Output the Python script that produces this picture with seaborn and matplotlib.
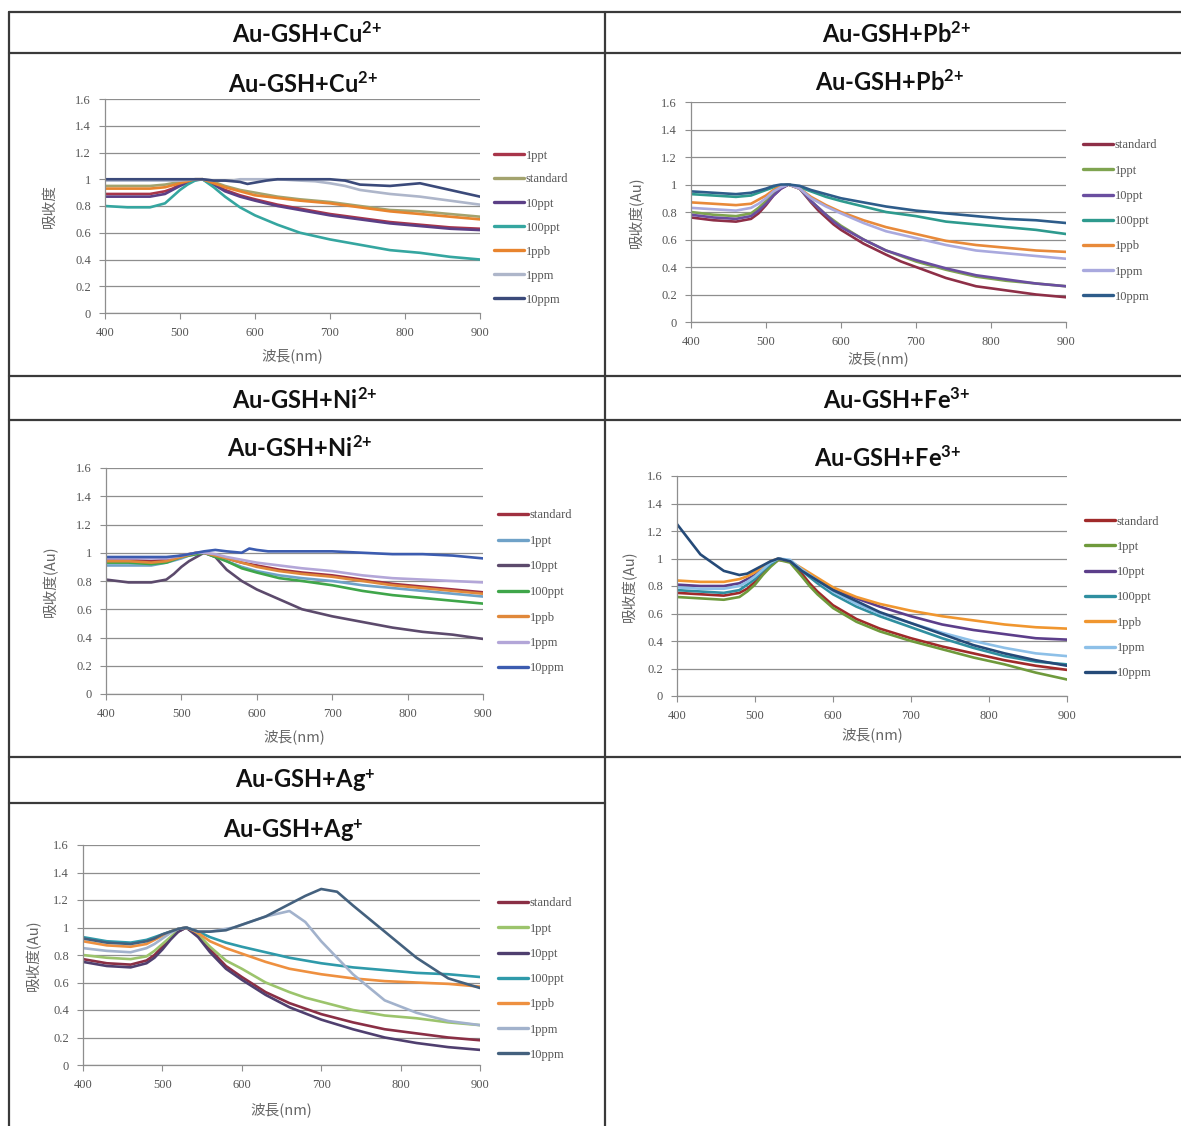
import numpy as np
import pandas as pd
import matplotlib
matplotlib.use("Agg")
import matplotlib.pyplot as plt
from matplotlib.lines import Line2D
import seaborn as sns

sns.set_style("white")
plt.rcParams["font.family"] = ["DejaVu Sans"]
plt.rcParams["mathtext.fontset"] = "custom"
plt.rcParams["mathtext.rm"] = "Lato"
plt.rcParams["mathtext.bf"] = "Lato:bold"
plt.rcParams["mathtext.it"] = "Lato:italic"

# ---------------------------------------------------------------- data
wavelength = [400, 430, 460, 480, 490, 500, 510, 520, 530, 545, 560, 570, 580,
              590, 600, 615, 630, 660, 680, 700, 720, 740, 780, 820, 860, 900]

# Au-GSH + Cu2+
cu_samples = ["1ppt", "standard", "10ppt", "100ppt", "1ppb", "1ppm", "10ppm"]
cu_1ppt = [.89, .89, .89, .91, .93, .96, .98, .995, 1.0, .965, .92, .90, .88, .865, .85, .83, .81, .78, .76, .74, .725, .71, .68, .66, .64, .63]
cu_standard = [.95, .95, .95, .96, .97, .98, .99, 1.0, 1.0, .98, .95, .935, .92, .91, .90, .885, .87, .85, .84, .83, .815, .80, .77, .76, .74, .72]
cu_10ppt = [.87, .87, .87, .89, .92, .95, .975, .995, 1.0, .96, .91, .89, .87, .855, .84, .82, .80, .77, .75, .73, .715, .70, .67, .65, .63, .62]
cu_100ppt = [.80, .79, .79, .82, .87, .92, .96, .99, 1.0, .94, .87, .83, .79, .76, .73, .695, .66, .60, .575, .55, .53, .51, .47, .45, .42, .40]
cu_1ppb = [.93, .93, .93, .94, .955, .97, .985, 1.0, 1.0, .97, .94, .925, .91, .895, .88, .87, .86, .84, .83, .82, .805, .79, .76, .74, .72, .70]
cu_1ppm = [.99, .99, .99, .99, .99, .99, .995, 1.0, 1.0, .99, .99, .99, 1.0, 1.0, 1.0, 1.0, 1.0, .99, .985, .97, .95, .92, .89, .87, .84, .81]
cu_10ppm = [1.0, 1.0, 1.0, 1.0, 1.0, 1.0, 1.0, 1.0, 1.0, .99, .99, .985, .98, .965, .975, .99, 1.0, 1.0, 1.0, 1.0, .99, .96, .95, .97, .92, .87]
cu_colors = ["#A8354A", "#A3A36E", "#5B3F86", "#35A6A0", "#E8842E", "#AEB6CA", "#3B4A7A"]

# Au-GSH + Pb2+
pb_samples = ["standard", "1ppt", "10ppt", "100ppt", "1ppb", "1ppm", "10ppm"]
pb_standard = [.76, .74, .73, .75, .79, .85, .92, .97, 1.0, .97, .87, .81, .76, .71, .67, .62, .57, .49, .44, .40, .36, .32, .26, .23, .20, .18]
pb_1ppt = [.80, .78, .77, .79, .83, .88, .94, .98, 1.0, .97, .88, .83, .78, .74, .70, .65, .60, .52, .48, .44, .41, .38, .33, .30, .28, .26]
pb_10ppt = [.78, .76, .75, .77, .81, .86, .92, .97, 1.0, .97, .88, .83, .78, .73, .69, .645, .60, .52, .485, .45, .42, .39, .34, .31, .28, .26]
pb_100ppt = [.93, .92, .91, .92, .94, .96, .98, .99, 1.0, .98, .95, .93, .91, .895, .88, .86, .84, .80, .785, .77, .75, .73, .71, .69, .67, .64]
pb_1ppb = [.87, .86, .85, .86, .89, .92, .96, .99, 1.0, .97, .91, .88, .85, .825, .80, .77, .74, .69, .665, .64, .615, .59, .56, .54, .52, .51]
pb_1ppm = [.83, .82, .81, .83, .86, .90, .95, .98, 1.0, .97, .90, .87, .84, .815, .79, .755, .72, .66, .635, .61, .585, .56, .52, .50, .48, .46]
pb_10ppm = [.95, .94, .93, .94, .955, .97, .99, 1.0, 1.0, .99, .96, .945, .93, .915, .90, .885, .87, .84, .825, .81, .80, .79, .77, .75, .74, .72]
pb_colors = ["#8E2F47", "#7FA450", "#6A4EA0", "#2E9A8E", "#E88A3A", "#A9A9DE", "#2E5C8A"]

# Au-GSH + Ni2+
ni_samples = ["standard", "1ppt", "10ppt", "100ppt", "1ppb", "1ppm", "10ppm"]
ni_standard = [.95, .95, .94, .95, .965, .98, .99, 1.0, 1.0, .98, .96, .945, .93, .92, .91, .895, .88, .86, .85, .84, .825, .81, .78, .76, .74, .72]
ni_1ppt = [.91, .91, .91, .93, .945, .96, .98, .99, 1.0, .98, .94, .92, .90, .885, .87, .855, .84, .82, .81, .80, .785, .77, .75, .73, .71, .69]
ni_10ppt = [.81, .79, .79, .81, .85, .90, .94, .97, 1.0, .97, .88, .84, .80, .77, .74, .705, .67, .60, .575, .55, .53, .51, .47, .44, .42, .39]
ni_100ppt = [.93, .93, .92, .93, .95, .97, .98, .99, 1.0, .97, .94, .915, .89, .875, .86, .84, .82, .80, .785, .77, .75, .73, .70, .68, .66, .64]
ni_1ppb = [.94, .94, .93, .94, .955, .97, .985, 1.0, 1.0, .98, .96, .945, .93, .915, .90, .885, .87, .85, .84, .83, .815, .80, .77, .75, .73, .71]
ni_1ppm = [.96, .96, .96, .96, .97, .98, .99, 1.0, 1.0, .99, .97, .96, .95, .94, .93, .92, .91, .89, .88, .87, .855, .84, .82, .81, .80, .79]
ni_10ppm = [.97, .97, .97, .97, .975, .98, .99, 1.0, 1.01, 1.02, 1.01, 1.005, 1.0, 1.03, 1.02, 1.01, 1.01, 1.01, 1.01, 1.01, 1.005, 1.0, .99, .99, .98, .96]
ni_colors = ["#A03040", "#6FA2C8", "#5C4A6C", "#3FA64A", "#E0883A", "#B3A6D8", "#3C5CB0"]

# Au-GSH + Fe3+
fe_samples = ["standard", "1ppt", "10ppt", "100ppt", "1ppb", "1ppm", "10ppm"]
fe_standard = [.75, .74, .73, .75, .78, .83, .89, .95, .99, .98, .89, .82, .76, .71, .66, .61, .56, .49, .455, .42, .39, .36, .31, .26, .22, .19]
fe_1ppt = [.72, .71, .70, .72, .76, .81, .88, .94, .99, .97, .87, .80, .74, .69, .64, .59, .54, .47, .435, .40, .37, .34, .28, .23, .17, .12]
fe_10ppt = [.81, .80, .80, .82, .85, .88, .93, .97, 1.0, .98, .92, .885, .85, .815, .78, .745, .71, .65, .615, .58, .55, .52, .48, .45, .42, .41]
fe_100ppt = [.77, .76, .75, .77, .81, .85, .91, .96, 1.0, .98, .91, .865, .82, .78, .74, .695, .65, .58, .54, .50, .46, .42, .35, .29, .25, .23]
fe_1ppb = [.84, .83, .83, .85, .87, .90, .94, .98, 1.0, .98, .93, .895, .86, .825, .79, .755, .72, .67, .645, .62, .60, .58, .55, .52, .50, .49]
fe_1ppm = [.79, .78, .78, .80, .83, .87, .92, .97, 1.0, .99, .92, .88, .84, .80, .76, .715, .67, .60, .565, .53, .495, .46, .40, .35, .31, .29]
fe_10ppm = [1.25, 1.03, .91, .88, .89, .92, .95, .98, 1.0, .98, .91, .875, .84, .805, .77, .73, .69, .61, .57, .53, .49, .45, .37, .31, .26, .22]
fe_colors = ["#A02A2A", "#6F9A3C", "#5C3E8A", "#2F8FA0", "#F0962F", "#8DC0E8", "#254A78"]

# Au-GSH + Ag+
ag_samples = ["standard", "1ppt", "10ppt", "100ppt", "1ppb", "1ppm", "10ppm"]
ag_standard = [.77, .74, .73, .76, .80, .86, .92, .97, 1.0, .94, .84, .78, .72, .68, .64, .585, .53, .45, .41, .37, .34, .31, .26, .23, .20, .18]
ag_1ppt = [.80, .78, .77, .79, .83, .88, .93, .98, 1.0, .95, .86, .81, .76, .73, .70, .65, .60, .53, .49, .46, .43, .40, .36, .34, .31, .29]
ag_10ppt = [.75, .72, .71, .74, .78, .84, .91, .97, 1.0, .93, .82, .76, .70, .66, .62, .565, .51, .42, .375, .33, .295, .26, .20, .16, .13, .11]
ag_100ppt = [.93, .90, .89, .91, .93, .95, .97, .99, 1.0, .97, .93, .91, .89, .875, .86, .84, .82, .78, .76, .74, .725, .71, .69, .67, .66, .64]
ag_1ppb = [.90, .87, .86, .88, .91, .94, .97, .99, 1.0, .96, .90, .875, .85, .83, .81, .78, .75, .70, .68, .66, .645, .63, .61, .60, .59, .57]
ag_1ppm = [.85, .83, .82, .85, .88, .92, .96, .99, 1.0, .97, .97, .98, .99, 1.0, 1.02, 1.05, 1.08, 1.12, 1.04, .90, .78, .66, .47, .38, .32, .29]
ag_10ppm = [.92, .89, .88, .90, .92, .95, .97, .99, 1.0, .97, .97, .975, .98, 1.0, 1.02, 1.05, 1.08, 1.17, 1.23, 1.28, 1.26, 1.16, .97, .78, .63, .56]
ag_colors = ["#8A2F45", "#9CC46C", "#4F3F6F", "#2F9AAA", "#EE9040", "#A2B2CC", "#44617E"]

y_ticks = [0, 0.2, 0.4, 0.6, 0.8, 1.0, 1.2, 1.4, 1.6]
y_tick_labels = ["0", "0.2", "0.4", "0.6", "0.8", "1", "1.2", "1.4", "1.6"]
x_ticks = [400, 500, 600, 700, 800, 900]

# ---------------------------------------------------------------- layout (pixels)
W, H = 1181, 1126
fig = plt.figure(figsize=(W / 100, H / 100), dpi=100)
fig.patch.set_facecolor("white")


def fx(x):
    return x / W


def fy(y):
    return 1 - y / H


panels = [
    dict(title=r"Au-GSH+Cu$^{\mathbf{2{+}}}$", samples=cu_samples,
         values=[cu_1ppt, cu_standard, cu_10ppt, cu_100ppt, cu_1ppb, cu_1ppm, cu_10ppm],
         colors=cu_colors, ylabel="吸收度",
         box=(105, 99, 480, 313), head=(307, 34), tt=(303, 83),
         leg=(494, 157, 26.0), ylx=50, xly=356),
    dict(title=r"Au-GSH+Pb$^{\mathbf{2{+}}}$", samples=pb_samples,
         values=[pb_standard, pb_1ppt, pb_10ppt, pb_100ppt, pb_1ppb, pb_1ppm, pb_10ppm],
         colors=pb_colors, ylabel="吸收度(Au)",
         box=(691, 102, 1066, 322), head=(897, 34), tt=(890, 82),
         leg=(1083, 147, 27.2), ylx=636, xly=359),
    dict(title=r"Au-GSH+Ni$^{\mathbf{2{+}}}$", samples=ni_samples,
         values=[ni_standard, ni_1ppt, ni_10ppt, ni_100ppt, ni_1ppb, ni_1ppm, ni_10ppm],
         colors=ni_colors, ylabel="吸收度(Au)",
         box=(106, 468, 483, 694), head=(305, 399), tt=(300, 447),
         leg=(498, 517, 27.5), ylx=50, xly=737),
    dict(title=r"Au-GSH+Fe$^{\mathbf{3{+}}}$", samples=fe_samples,
         values=[fe_standard, fe_1ppt, fe_10ppt, fe_100ppt, fe_1ppb, fe_1ppm, fe_10ppm],
         colors=fe_colors, ylabel="吸收度(Au)",
         box=(677, 476, 1067, 696), head=(897, 399), tt=(888, 457),
         leg=(1085, 523, 27.3), ylx=629, xly=735),
    dict(title=r"Au-GSH+Ag$^{\mathbf{{+}}}$", samples=ag_samples,
         values=[ag_standard, ag_1ppt, ag_10ppt, ag_100ppt, ag_1ppb, ag_1ppm, ag_10ppm],
         colors=ag_colors, ylabel="吸收度(Au)",
         box=(83, 845, 480, 1065), head=(305, 781), tt=(293, 831),
         leg=(498, 905, 27.2), ylx=33, xly=1110),
]

title_font = dict(family="Lato", fontweight="bold", fontsize=17, color="#111111")
tick_font = "Liberation Serif"
tick_size = 9
cjk = ["Noto Sans CJK TC", "DejaVu Sans"]
grid_col = "#8e8e8e"
text_col = "#555555"

for p in panels:
    l, t, r, b = p["box"]
    ax = fig.add_axes([fx(l), fy(b), (r - l) / W, (b - t) / H])
    n = len(p["samples"])
    df = pd.DataFrame({
        "wavelength": np.tile(wavelength, n),
        "absorbance": np.concatenate([np.asarray(v, float) for v in p["values"]]),
        "sample": np.repeat(p["samples"], len(wavelength)),
    })
    palette = dict(zip(p["samples"], p["colors"]))
    line_ax = sns.lineplot(data=df, x="wavelength", y="absorbance", hue="sample",
                           hue_order=p["samples"], palette=palette, ax=ax, legend=False,
                           linewidth=1.9, estimator=None, sort=False)
    for ln in line_ax.get_lines():
        ln.set_solid_joinstyle("round")
        ln.set_solid_capstyle("round")

    ax.set_xlim(400, 900)
    ax.set_ylim(0, 1.6)
    ax.set_xticks(x_ticks)
    ax.set_xticklabels([str(v) for v in x_ticks])
    ax.set_yticks(y_ticks)
    ax.set_yticklabels(y_tick_labels)
    ax.set_xlabel("")
    ax.set_ylabel("")
    ax.set_facecolor("none")
    ax.yaxis.grid(True, color=grid_col, lw=0.9)
    ax.xaxis.grid(False)
    ax.set_axisbelow(True)
    for s in ("top", "right"):
        ax.spines[s].set_visible(False)
    for s in ("left", "bottom"):
        ax.spines[s].set_color(grid_col)
        ax.spines[s].set_linewidth(0.9)
    ax.tick_params(axis="both", direction="out", length=4, width=0.8,
                   color=grid_col, labelsize=tick_size, labelcolor=text_col, pad=6,
                   bottom=True, left=True)
    for lab in ax.get_xticklabels() + ax.get_yticklabels():
        lab.set_fontfamily(tick_font)

    # chart title, axis titles
    fig.text(fx(p["tt"][0]), fy(p["tt"][1]), p["title"], ha="center", va="center", **title_font)
    fig.text(fx((l + r) / 2), fy(p["xly"]), "波長(nm)", ha="center", va="center",
             family=cjk, fontsize=10.5, color="#666666")
    fig.text(fx(p["ylx"]), fy((t + b) / 2), p["ylabel"], ha="center", va="center",
             rotation=90, family=cjk, fontsize=10.5, color="#666666")

    # legend on the right
    lx, ly, sp = p["leg"]
    handles = [Line2D([], [], color=c, lw=2.4) for c in p["colors"]]
    fig.legend(handles, p["samples"], loc="upper left",
               bbox_to_anchor=(fx(lx), fy(ly - 7.5)), bbox_transform=fig.transFigure,
               frameon=False, prop={"family": tick_font, "size": tick_size}, labelcolor=text_col,
               handlelength=2.4, handletextpad=0.15, borderpad=0, borderaxespad=0,
               labelspacing=(sp - 14.0) / 12.5)

    # table header above the chart cell
    fig.text(fx(p["head"][0]), fy(p["head"][1]), p["title"], ha="center", va="center", **title_font)

# ---------------------------------------------------------------- table rules
rule = dict(color="#3a3a3a", lw=1.6, transform=fig.transFigure)
for y, x0, x1 in [(12, 9, 1181), (53, 9, 1181), (376, 9, 1181), (420, 9, 1181),
                  (757, 9, 1181), (803, 9, 605)]:
    fig.add_artist(Line2D([fx(x0), fx(x1)], [fy(y), fy(y)], **rule))
for x, y0, y1 in [(9, 12, 1126), (605, 12, 1126)]:
    fig.add_artist(Line2D([fx(x), fx(x)], [fy(y0), fy(y1)], **rule))

fig.savefig("out.png", dpi=100, facecolor="white")
